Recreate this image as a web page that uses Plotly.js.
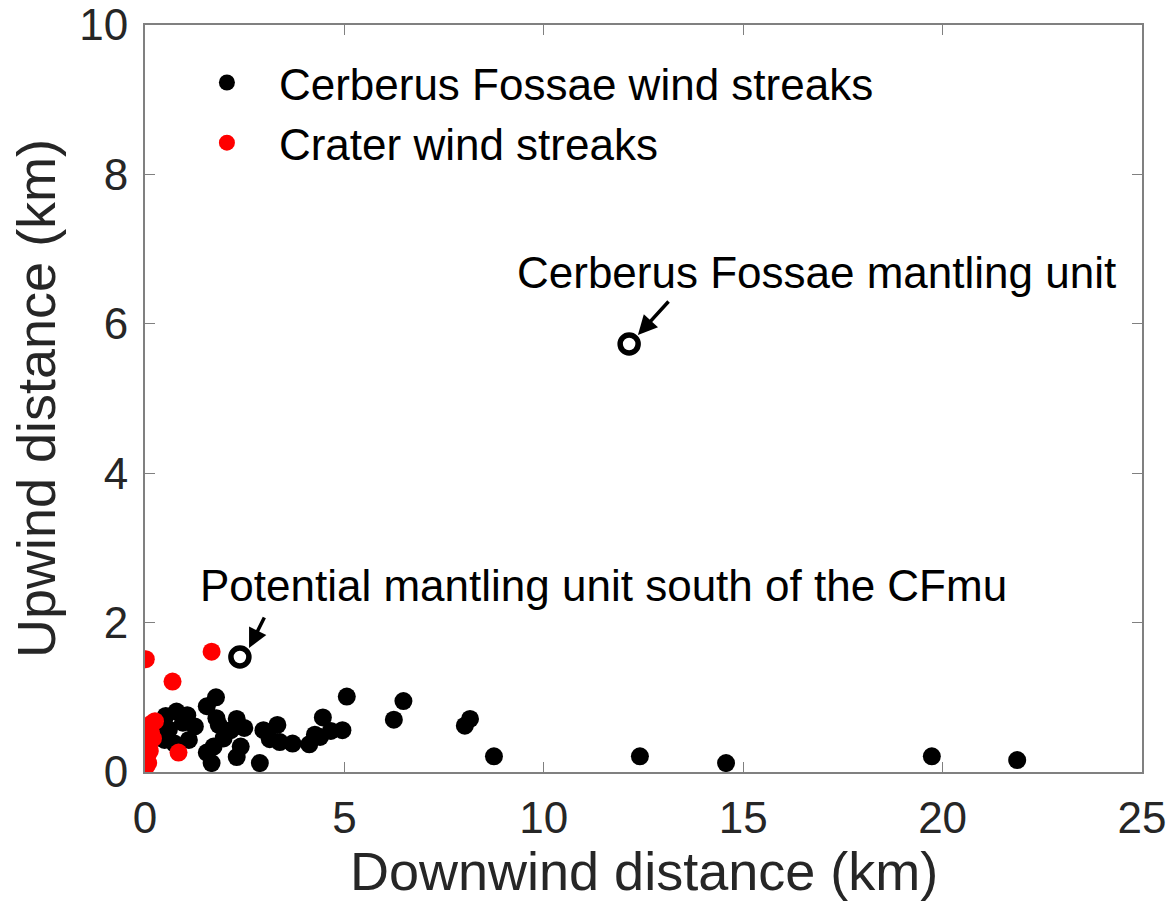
<!DOCTYPE html>
<html>
<head>
<meta charset="utf-8">
<script src="https://cdn.plot.ly/plotly-3.0.1.min.js"></script>
<style>html,body{margin:0;padding:0;background:#fff;}#chart{width:1174px;height:916px;}</style>
</head>
<body>
<div id="chart"></div>
<script>
// Cerberus Fossae wind streaks (black)
const cfX = [1.78,1.55,5.06,6.48,6.24,8.15,8.02,8.75,12.41,14.57,19.73,21.87,0.79,0.52,1.06,1.25,0.60,0.49,1.10,0.74,1.55,1.67,1.85,1.79,1.97,2.30,2.15,2.49,2.40,2.30,2.88,2.97,3.32,3.13,3.38,3.70,4.12,4.26,4.46,4.66,4.95,4.39,1.72,0.95,0.35,0.40];
const cfY = [1.00,0.88,1.01,0.95,0.70,0.71,0.62,0.21,0.21,0.12,0.21,0.16,0.81,0.75,0.76,0.61,0.57,0.43,0.43,0.38,0.26,0.12,0.63,0.72,0.45,0.71,0.56,0.59,0.34,0.20,0.12,0.56,0.63,0.44,0.40,0.38,0.37,0.50,0.73,0.55,0.56,0.47,0.34,0.66,0.62,0.50];
// Crater wind streaks (red)
const crX = [0.02,1.67,0.69,0.84,0.17,0.02,0.20,0.10,0.12,0.05,0.08,0.02,0.15,0.05,0.25];
const crY = [1.51,1.61,1.21,0.26,0.65,0.57,0.45,0.35,0.28,0.20,0.12,0.07,0.52,0.40,0.68];
// Mantling units (open circles)
const muX = [2.38,12.14];
const muY = [1.54,5.73];
const muLabels = ["Potential mantling unit south of the CFmu","Cerberus Fossae mantling unit"];
const xTitle = 'Downwind distance (km)';
const yTitle = 'Upwind distance (km)';

const font = "Liberation Sans, Arial, sans-serif";
const traces = [
  {x: cfX, y: cfY, type: 'scatter', mode: 'markers', name: 'Cerberus Fossae wind streaks',
   marker: {color: '#000000', size: 18}},
  {x: crX, y: crY, type: 'scatter', mode: 'markers', name: 'Crater wind streaks',
   marker: {color: '#ff0000', size: 18}},
  {x: muX, y: muY, type: 'scatter', mode: 'markers', showlegend: false,
   marker: {color: '#ffffff', size: 18, line: {color: '#000000', width: 5.5}}}
];

const layout = {
  width: 1174, height: 916,
  margin: {l: 145, r: 32, t: 25, b: 144},
  paper_bgcolor: '#ffffff', plot_bgcolor: '#ffffff',
  font: {family: font, color: '#262626'},
  showlegend: true,
  legend: {x: 0.03, y: 0.97, xanchor: 'left', yanchor: 'top', bgcolor: 'rgba(0,0,0,0)',
           font: {size: 44, color: '#000000', family: font}, itemwidth: 94, tracegroupgap: 0},
  xaxis: {range: [0, 25], tickvals: [0,5,10,15,20,25], ticks: 'inside', ticklen: 10, tickcolor: '#808080',
          showline: true, linecolor: '#808080', linewidth: 2, mirror: 'ticks', showgrid: false, zeroline: false,
          tickfont: {size: 44, color: '#262626'}, ticklabelstandoff: 6},
  yaxis: {range: [0, 10], tickvals: [0,2,4,6,8,10], ticks: 'inside', ticklen: 10, tickcolor: '#808080',
          showline: true, linecolor: '#808080', linewidth: 2, mirror: 'ticks', showgrid: false, zeroline: false,
          tickfont: {size: 44, color: '#262626'}, ticklabelstandoff: 6,
          title: {text: yTitle, font: {size: 54, color: '#262626'}, standoff: 6}},
  annotations: [
    {x: 12.36, y: 5.85, ax: 32, ay: -35, text: '', showarrow: true, arrowhead: 2, arrowsize: 1.1, arrowwidth: 3.5, arrowcolor: '#000'},
    {x: 16.83, y: 6.69, text: muLabels[1], showarrow: false, font: {size: 44, color: '#000'}},
    {x: 2.61, y: 1.66, ax: 16, ay: -32, text: '', showarrow: true, arrowhead: 2, arrowsize: 1.1, arrowwidth: 3.5, arrowcolor: '#000'},
    {x: 11.5, y: 2.50, text: muLabels[0], showarrow: false, font: {size: 44, color: '#000'}},
    {xref: 'paper', yref: 'paper', x: 0.5, y: -0.132, xanchor: 'center', yanchor: 'middle',
     text: xTitle, showarrow: false, font: {size: 54, color: '#262626'}}
  ]
};
Plotly.newPlot('chart', traces, layout, {displayModeBar: false, staticPlot: true});
</script>
</body>
</html>
